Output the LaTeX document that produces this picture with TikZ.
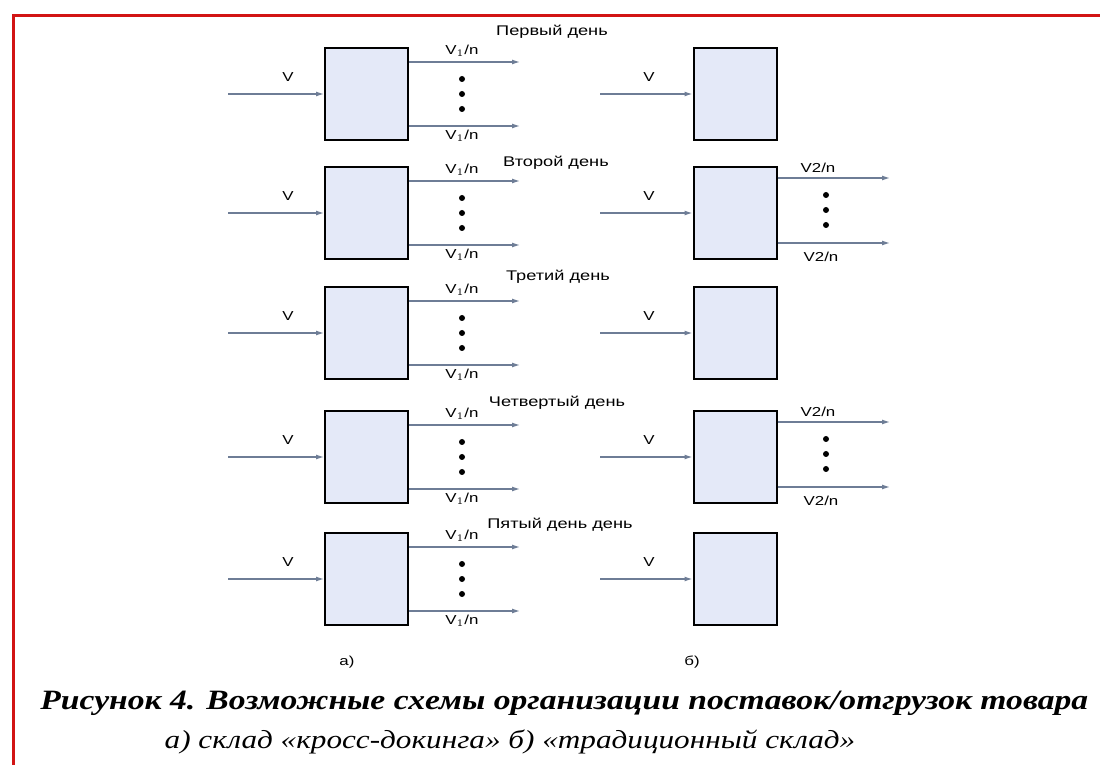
\documentclass[tikz,border=0pt]{standalone}
\usepackage{fontspec}
\setmainfont{Liberation Serif}
\newfontfamily\lblfont[FakeStretch=1.3]{Liberation Sans}
\newfontfamily\capfont[FakeStretch=1.2]{Liberation Serif}
\usetikzlibrary{arrows.meta,positioning}
\definecolor{boxfill}{RGB}{228,233,248}
\definecolor{flowgray}{RGB}{110,125,150}
\definecolor{framered}{RGB}{210,20,20}

\begin{document}
\begin{tikzpicture}[x=0.5pt, y=-0.5pt,
  store/.style={rectangle, draw, line width=1pt, fill=boxfill,
                minimum width=41.5pt, minimum height=46pt, inner sep=0pt},
  flow/.style={-{Latex[length=4pt,width=2.5pt]}, draw=flowgray, line width=0.6pt},
  lbl/.style={font=\lblfont\fontsize{6.5}{8}\selectfont, inner sep=1pt},
  day/.style={font=\lblfont\fontsize{7}{8}\selectfont, inner sep=1pt},
  bullet/.style={circle, fill=black, inner sep=0pt, minimum size=3pt}
]
  \useasboundingbox (0,0) rectangle (1100,765);
  \draw[framered, line width=1.5pt] (13,765) -- (13,16) -- (1100,16);

  % day titles
  \node[day] (d1) at (552,32) {Первый день};
  \node[day] (d2) at (556,163) {Второй день};
  \node[day] (d3) at (558,277) {Третий день};
  \node[day] (d4) at (557,403) {Четвертый день};
  \node[day] (d5) at (560,525) {Пятый день день};

  % a) cross-docking: every day V in, n shipments out
  \foreach \r/\yy in {1/94,2/213,3/333,4/457,5/579}{
    \node[store] (a\r) at (366.5,\yy) {};
    \coordinate (ain\r) at (228,\yy);
    \draw[flow] (ain\r) -- (a\r);
    \node[lbl] (av\r) at (288,\yy-17) {V};
    \coordinate (atop\r) at (520,\yy-32);
    \coordinate (abot\r) at (520,\yy+32);
    \draw[flow] (a\r.east |- atop\r) -- (atop\r);
    \draw[flow] (a\r.east |- abot\r) -- (abot\r);
    \node[lbl] (aot\r) at (462,\yy-43) {V$_1$/n};
    \node[lbl] (aob\r) at (462,\yy+42) {V$_1$/n};
    \foreach \d/\k in {-15/1,0/2,15/3}
      \node[bullet] (ad\r\k) at (462,\yy+\d) {};
  }

  % b) traditional: V in every day, V2/n out on days 2 and 4
  \foreach \r/\yy in {1/94,2/213,3/333,4/457,5/579}{
    \node[store] (b\r) at (735,\yy) {};
    \coordinate (bin\r) at (600,\yy);
    \draw[flow] (bin\r) -- (b\r);
    \node[lbl] (bv\r) at (649,\yy-17) {V};
  }
  \foreach \r/\yy in {2/213,4/457}{
    \coordinate (btop\r) at (890,\yy-35);
    \coordinate (bbot\r) at (890,\yy+30);
    \draw[flow] (b\r.east |- btop\r) -- (btop\r);
    \draw[flow] (b\r.east |- bbot\r) -- (bbot\r);
    \node[lbl] (bot\r) at (818,\yy-45) {V2/n};
    \node[lbl] (bob\r) at (821,\yy+44) {V2/n};
    \foreach \d/\k in {-18/1,-3/2,12/3}
      \node[bullet] (bd\r\k) at (826,\yy+\d) {};
  }

  \node[lbl] (capa) at (347,662) {а)};
  \node[lbl] (capb) at (692,662) {б)};

  \node[anchor=west, inner sep=0pt,
        font=\capfont\bfseries\itshape\fontsize{14}{16}\selectfont] (cap1) at (40,703)
    {Рисунок 4. Возможные схемы организации поставок/отгрузок товара};
  \node[inner sep=0pt, font=\capfont\itshape\fontsize{13}{15}\selectfont] (cap2) at (510,742)
    {а) склад «кросс-докинга» б) «традиционный склад»};
\end{tikzpicture}
\end{document}
